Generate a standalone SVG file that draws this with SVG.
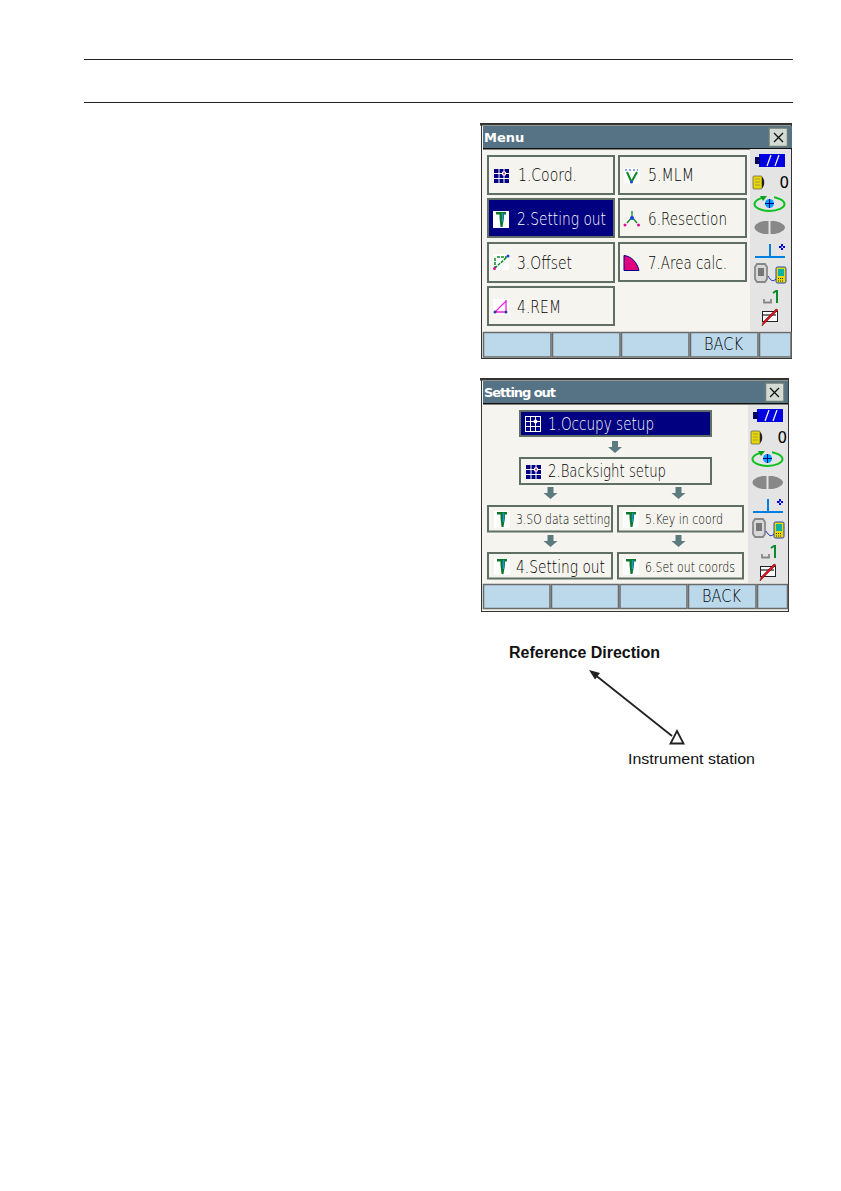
<svg xmlns="http://www.w3.org/2000/svg" xmlns:xlink="http://www.w3.org/1999/xlink" width="841" height="1191" viewBox="0 0 841 1191">
<style>
text{font-family:"DejaVu Sans","Liberation Sans",sans-serif;fill:#111}
.win{fill:#f5f4ee;stroke:#333;stroke-width:1}
.tb{fill:#567386}
.tt{font-weight:bold;font-size:13px;fill:#fff}
.btn{fill:#f5f4ee;stroke:#5f6f66;stroke-width:2}
.sel{fill:#000080;stroke:#5f6f66;stroke-width:2}
.lab{font-family:"DejaVu Sans ExtraLight","DejaVu Sans",sans-serif;font-weight:200;font-size:17.500px;fill:#000}
.sm{font-family:"DejaVu Sans ExtraLight","DejaVu Sans",sans-serif;font-weight:200;font-size:14px;fill:#000}
.k{fill:#bcd9ec;stroke:#6a6a6a;stroke-width:1.5}
.side{fill:#e4e4e4}
.cl{fill:#d4dbd4;stroke:#6b7b75;stroke-width:1.5}
.ar{fill:#5c7b80}
</style>
<defs>
<g id="so"><rect x="-1" y="-1" width="16" height="17" fill="#fff"/><path d="M2 0h10v2.500h-2v3.500l-1.500 9h-2l-1-9v-3.500h-3.500z" fill="#0a7a2a"/><path d="M8.500 1v9" stroke="#2090e0" stroke-width="1.500"/></g>
<g id="grid"><path d="M0 0h15v14h-15z" fill="#000080"/><path d="M0 4.500h15M0 9.500h15M5 0v14M10 0v14" stroke="#fff"/><circle cx="10" cy="4.500" r="2.200" fill="#fff"/><circle cx="10" cy="4.500" r="1" fill="#e02040"/></g>
<path id="dn" class="ar" d="M-3 0h6v6h4l-7 6-7-6h4z"/>
<g id="panel">
<rect x="5" y="0" width="26" height="13" fill="#0000e0"/><rect x="1" y="3" width="5" height="7" fill="#000060"/><path d="M13 12l4-11M21 12l4-11" stroke="#fff" stroke-width="1.200"/>
<rect x="-1" y="22" width="9" height="13" rx="1" fill="#e8d800" stroke="#555" stroke-width="0.700"/><path d="M8 23c3 2 3 9 0 11" fill="#222"/><path d="M1 25h5M1 28h5M1 31h5" stroke="#777" stroke-width="0.600"/>
<text x="25.500" y="34" style="font-size:15px;fill:#000">0</text>
<ellipse cx="15.500" cy="50" rx="15" ry="7" fill="none" stroke="#10c020" stroke-width="2"/><rect x="9" y="41" width="11" height="4" fill="#e4e4e4"/><path d="M6 42h7l-4 5z" fill="#10a020"/><circle cx="15.500" cy="49.500" r="4.500" fill="#00a0ff"/><path d="M11 49.500h9M15.500 45v9" stroke="#000080"/>
<path d="M14.500 67h-4c-6 1-10 4-10 6.500s4 5.500 10 6.500h4zM16.500 67h4c6 1 10.500 4 10.500 6.500s-4.500 5.500-10.500 6.500h-4z" fill="#888"/>
<path d="M1 103h30M16 103v-13" stroke="#0080e0" stroke-width="2" fill="none"/><path d="M25 93h6M28 90v6" stroke="#0000e0" stroke-width="2"/><rect x="27.500" y="92.500" width="1.500" height="1.500" fill="#fff"/>
<path d="M3 110h8l2 3v12l-2 3h-8l-2-3v-12z" fill="#d8d8d8" stroke="#888" stroke-width="1.800"/><rect x="4" y="114" width="6" height="8" fill="#777"/><path d="M14 122c3 5 5 6 8 3" stroke="#2030c0" fill="none"/><rect x="22" y="113" width="10" height="16" rx="1.500" fill="#e8d800" stroke="#2040c0"/><rect x="24" y="115" width="6" height="7" fill="#10b0a0"/><path d="M24 124.500h6M24 127h6" stroke="#333" stroke-dasharray="1 1"/>
<path d="M10 145v3.500h7v-3.500" fill="none" stroke="#888" stroke-width="1.800"/>
<path d="M19 139l3-2h1v12" fill="none" stroke="#0a8a2a" stroke-width="2"/>
<rect x="8.500" y="157.500" width="15" height="10" fill="#fff" stroke="#222"/><path d="M9 161h13" stroke="#777" stroke-width="2"/><path d="M24 156l-14 14-2 2 1-4 13-13z" fill="#e01020" stroke="#500" stroke-width="0.500"/>
</g>
</defs>
<rect width="841" height="1191" fill="#fff"/>
<g id="header-rules" stroke="#222" stroke-width="1"><path d="M84 59.500h709M84 102.500h709"/></g>

<g id="menu-window">
<rect class="win" x="481.500" y="123.500" width="310" height="235"/>
<rect x="480" y="123" width="312" height="2.500" fill="#333"/>
<rect class="tb" x="483" y="126" width="309" height="22"/>
<rect x="483" y="148" width="309" height="1.500" fill="#111"/>
<text class="tt" x="484" y="142">Menu</text>
<rect class="cl" x="769" y="128" width="18.500" height="18.500"/>
<path d="M774 133l9 9M783 133l-9 9" stroke="#111" stroke-width="1.300"/>
<rect class="side" x="750" y="149" width="41" height="182"/>
<use xlink:href="#panel" x="754" y="154"/>
<g id="m1"><rect class="btn" x="488" y="156" width="126" height="38"/><use xlink:href="#grid" x="494" y="169"/><text class="lab" x="518" y="181" textLength="59" lengthAdjust="spacingAndGlyphs">1.Coord.</text></g>
<g id="m2"><rect class="sel" x="488" y="199" width="126" height="38"/><use xlink:href="#so" x="494" y="212"/><text class="lab" x="517" y="225" textLength="89" lengthAdjust="spacingAndGlyphs" style="fill:#fff">2.Setting out</text></g>
<g id="m3"><rect class="btn" x="488" y="243" width="126" height="39"/><rect x="493" y="254" width="16" height="16" fill="#fff"/><path d="M495 268l12-11M495 258v10M497 257h10" stroke="#0a8a2a" stroke-width="1.500" stroke-dasharray="3 1" fill="none"/><circle cx="494.500" cy="268.500" r="1.500" fill="#e01090"/><circle cx="508" cy="256" r="1.500" fill="#2040e0"/><text class="lab" x="517" y="269" textLength="55" lengthAdjust="spacingAndGlyphs">3.Offset</text></g>
<g id="m4"><rect class="btn" x="488" y="287" width="126" height="38"/><rect x="493" y="299" width="16" height="16" fill="#fff"/><path d="M495 312h11v-11zM506 300v10" stroke="#f020e0" stroke-width="1.300" fill="none"/><circle cx="495" cy="312" r="1.500" fill="#2040a0"/><circle cx="506" cy="312" r="1.500" fill="#2040a0"/><text class="lab" x="517" y="313" textLength="44" lengthAdjust="spacingAndGlyphs">4.REM</text></g>
<g id="m5"><rect class="btn" x="619" y="156" width="127" height="38"/><rect x="624" y="168" width="16" height="16" fill="#fff"/><path d="M625 170h13" stroke="#2040e0" stroke-dasharray="2 2"/><path d="M627 172l4 9M637 172l-5 9" stroke="#0a8a2a" stroke-width="2" fill="none"/><circle cx="631.500" cy="182" r="1.500" fill="#2040e0"/><text class="lab" x="648" y="181" textLength="46" lengthAdjust="spacingAndGlyphs">5.MLM</text></g>
<g id="m6"><rect class="btn" x="619" y="199" width="127" height="38"/><path d="M632 211v6M632 217l-5 6M632 217l5 6" stroke="#0a8a2a" stroke-width="1.300"/><circle cx="632" cy="218" r="2" fill="#2040e0"/><circle cx="625" cy="225" r="1.500" fill="#e01090"/><circle cx="638.500" cy="225" r="1.500" fill="#e01090"/><text class="lab" x="648" y="225" textLength="79" lengthAdjust="spacingAndGlyphs">6.Resection</text></g>
<g id="m7"><rect class="btn" x="619" y="243" width="127" height="38"/><path d="M624 255.500c8 1 13 7 15 15h-15z" fill="#e00080" stroke="#000080"/><text class="lab" x="648" y="269" textLength="79" lengthAdjust="spacingAndGlyphs">7.Area calc.</text></g>
<g id="m-keys"><rect class="k" x="483.500" y="332.500" width="67.500" height="24.500"/><rect class="k" x="552.500" y="332.500" width="67.500" height="24.500"/><rect class="k" x="621.500" y="332.500" width="67.500" height="24.500"/><rect class="k" x="690.500" y="332.500" width="67.500" height="24.500"/><rect class="k" x="759.500" y="332.500" width="31.500" height="24.500"/><text class="lab" x="704" y="350" textLength="39" lengthAdjust="spacingAndGlyphs">BACK</text></g>
</g>

<g id="setting-window">
<rect class="win" x="481.500" y="379.500" width="307" height="232"/>
<rect x="480" y="378" width="309" height="2.500" fill="#333"/>
<rect class="tb" x="483" y="381" width="305" height="22"/>
<rect x="483" y="403" width="305" height="1.500" fill="#111"/>
<text class="tt" x="484" y="397" textLength="72">Setting out</text>
<rect class="cl" x="765.500" y="383" width="18.500" height="18.500"/>
<path d="M770 388l9 9M779 388l-9 9" stroke="#111" stroke-width="1.300"/>
<rect class="side" x="748" y="405" width="40" height="178"/>
<use xlink:href="#panel" x="752" y="409"/>
<g id="s1"><rect x="520" y="411" width="191" height="25" fill="#000080" stroke="#5f6f66" stroke-width="2"/><g stroke="#fff" fill="none"><rect x="525.500" y="416.500" width="15" height="15"/><path d="M525 421.500h15M525 426.500h15M530.500 416v15M535.500 416v15"/></g><circle cx="535.500" cy="421.500" r="2" fill="#fff"/><text class="lab" x="548" y="430" textLength="106" lengthAdjust="spacingAndGlyphs" style="fill:#fff">1.Occupy setup</text></g>
<use xlink:href="#dn" x="615" y="441"/>
<g id="s2"><rect class="btn" x="520" y="458" width="191" height="26"/><use xlink:href="#grid" x="526" y="465"/><text class="lab" x="548" y="477" textLength="118" lengthAdjust="spacingAndGlyphs">2.Backsight setup</text></g>
<use xlink:href="#dn" x="550.500" y="487"/><use xlink:href="#dn" x="678.500" y="487"/>
<g id="s3"><rect class="btn" x="488" y="506" width="124" height="25.500"/><use xlink:href="#so" x="495" y="512"/><text class="sm" x="516" y="524" textLength="94" lengthAdjust="spacingAndGlyphs">3.SO data setting</text></g>
<g id="s5"><rect class="btn" x="618" y="506" width="125" height="25.500"/><use xlink:href="#so" x="624" y="512"/><text class="sm" x="645" y="524" textLength="78" lengthAdjust="spacingAndGlyphs">5.Key in coord</text></g>
<use xlink:href="#dn" x="550.500" y="535"/><use xlink:href="#dn" x="678.500" y="535"/>
<g id="s4"><rect class="btn" x="488" y="553" width="124" height="25.500"/><use xlink:href="#so" x="495" y="559"/><text class="lab" x="516" y="573" textLength="89" lengthAdjust="spacingAndGlyphs">4.Setting out</text></g>
<g id="s6"><rect class="btn" x="618" y="553" width="125" height="25.500"/><use xlink:href="#so" x="624" y="559"/><text class="sm" x="645" y="572" textLength="90" lengthAdjust="spacingAndGlyphs">6.Set out coords</text></g>
<g id="s-keys"><rect class="k" x="483.500" y="584.500" width="66.500" height="24"/><rect class="k" x="551.500" y="584.500" width="67" height="24"/><rect class="k" x="620" y="584.500" width="67" height="24"/><rect class="k" x="688.500" y="584.500" width="67.500" height="24"/><rect class="k" x="757.500" y="584.500" width="30" height="24"/><text class="lab" x="702" y="602" textLength="39" lengthAdjust="spacingAndGlyphs">BACK</text></g>
</g>

<g id="direction-figure">
<g id="connectors"><path d="M672 736L594 674" stroke="#222" stroke-width="1.800"/><path d="M589 670l11 3-5 6.500z" fill="#222"/></g>
<text x="509" y="658" textLength="151" lengthAdjust="spacingAndGlyphs" style="font-family:'Liberation Sans',sans-serif;font-weight:bold;font-size:16px;fill:#111">Reference Direction</text>
<g id="instrument-station"><path d="M677 731l6.500 12.500h-13z" fill="#fff" stroke="#222" stroke-width="1.800"/><text x="628" y="764" textLength="127" lengthAdjust="spacingAndGlyphs" style="font-family:'Liberation Sans',sans-serif;font-size:15.500px;fill:#111">Instrument station</text></g>
</g>
</svg>
